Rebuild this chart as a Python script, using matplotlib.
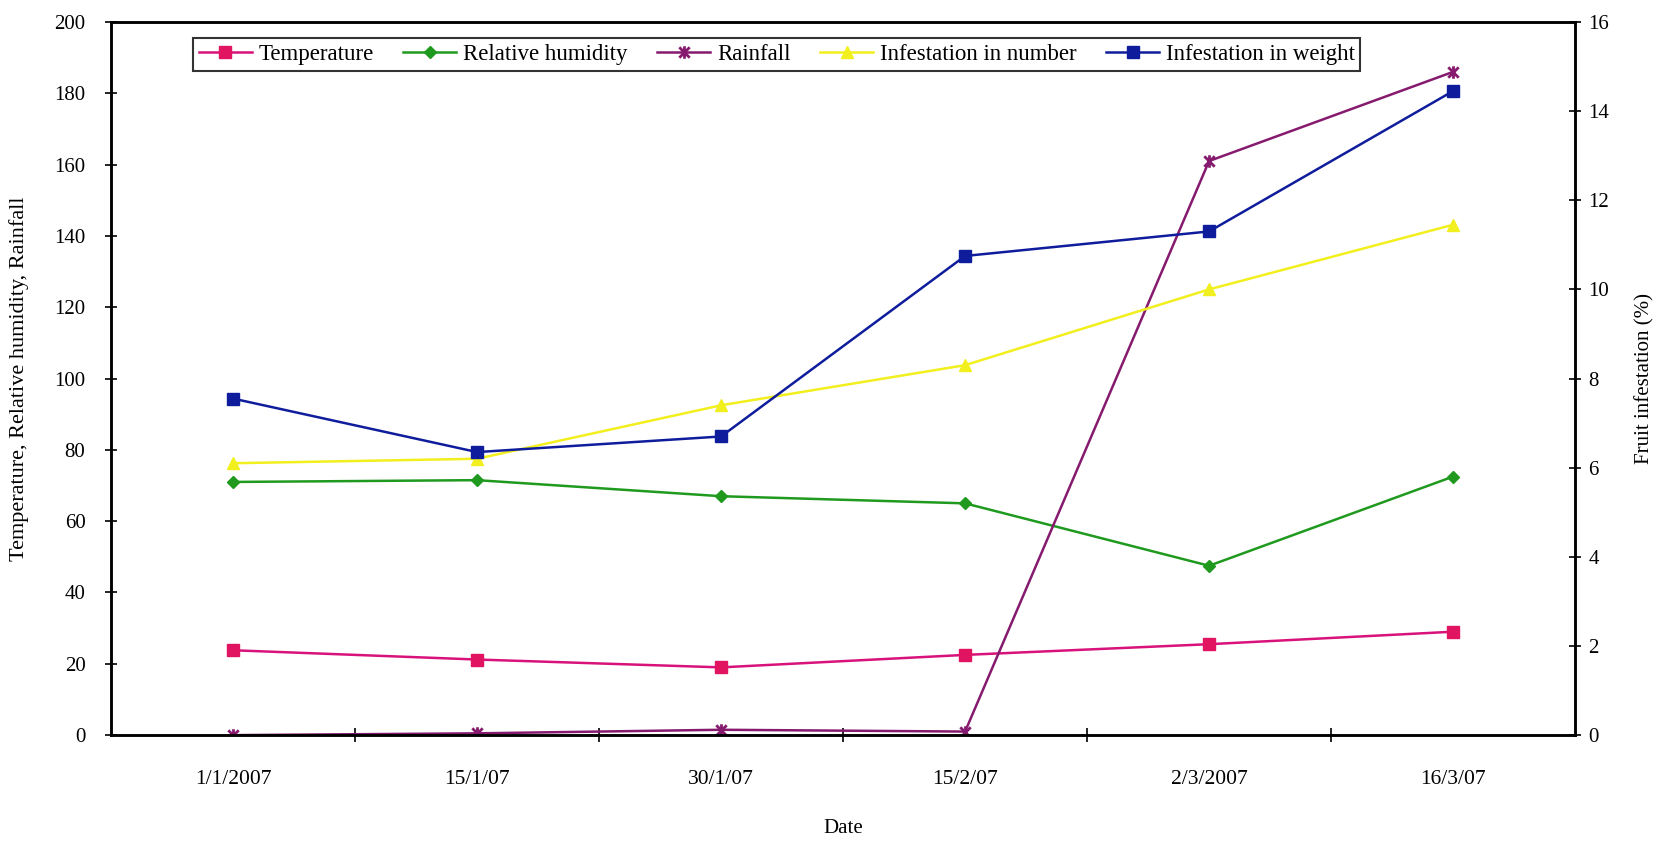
import matplotlib
matplotlib.use("Agg")
import matplotlib.pyplot as plt
from matplotlib.path import Path
from matplotlib.ticker import FixedLocator

plt.rcParams['font.family'] = ['Liberation Serif', 'DejaVu Serif']

dates = ["1/1/2007", "15/1/07", "30/1/07", "15/2/07", "2/3/2007", "16/3/07"]

# left axis series
temperature = [23.8, 21.2, 19.0, 22.5, 25.5, 29.0]
humidity = [71.0, 71.5, 67.0, 65.0, 47.5, 72.5]
rainfall = [0.0, 0.5, 1.5, 1.0, 161.0, 186.0]

# right axis series (%)
infest_number = [6.1, 6.2, 7.4, 8.3, 10.0, 11.45]
infest_weight = [7.55, 6.35, 6.7, 10.75, 11.3, 14.45]

c_temp = "#d8127a"
c_temp_mk = "#e01460"
c_rh = "#1f9a1f"
c_rain = "#851a6e"
c_num = "#f2ef1e"
c_wt = "#0f1d9c"

# excel style star: an x with a vertical bar through it
star = Path([(-1, -1), (1, 1), (-1, 1), (1, -1), (0, -1.2), (0, 1.2)],
            [Path.MOVETO, Path.LINETO, Path.MOVETO, Path.LINETO,
             Path.MOVETO, Path.LINETO])

fig = plt.figure(figsize=(16.58, 8.44), dpi=100)
ax = fig.add_axes([0.067, 0.129, 0.883, 0.845])
ax2 = ax.twinx()

x = list(range(len(dates)))
lw = 1.8
l1, = ax.plot(x, temperature, color=c_temp, lw=lw, marker='s', ms=8.5,
              mfc=c_temp_mk, mec=c_temp_mk, label="Temperature")
l2, = ax.plot(x, humidity, color=c_rh, lw=lw, marker='D', ms=6.5,
              mfc=c_rh, mec=c_rh, label="Relative humidity")
l3, = ax.plot(x, rainfall, color=c_rain, lw=lw, marker=star, ms=9,
              mew=2, mec=c_rain, label="Rainfall")
l4, = ax2.plot(x, infest_number, color=c_num, lw=lw, marker='^', ms=9,
               mfc=c_num, mec=c_num, label="Infestation in number")
l5, = ax2.plot(x, infest_weight, color=c_wt, lw=lw, marker='s', ms=8.5,
               mfc=c_wt, mec=c_wt, label="Infestation in weight")

ax.set_xlim(-0.5, len(dates) - 0.5)
ax.set_ylim(0, 200)
ax2.set_ylim(0, 16)
ax.set_yticks(range(0, 201, 20))
ax2.set_yticks(range(0, 17, 2))
ax.set_xticks(x)
ax.set_xticklabels(dates)
ax.xaxis.set_minor_locator(FixedLocator([i + 0.5 for i in range(len(dates) - 1)]))

for a in (ax, ax2):
    for s in a.spines.values():
        s.set_linewidth(1.8)
        s.set_color("black")

ax.tick_params(axis='x', which='major', length=0, pad=25, labelsize=15.5)
ax.tick_params(axis='x', which='minor', length=10, width=1.2, direction='inout')
ax.tick_params(axis='y', length=9, width=1.2, direction='inout', labelsize=15, pad=14)
ax2.tick_params(axis='y', length=9, width=1.2, direction='inout', labelsize=15, pad=5)

ax.set_xlabel("Date", fontsize=15, labelpad=22)
ax.set_ylabel("Temperature, Relative humidity, Rainfall", fontsize=16, labelpad=18)
ax2.set_ylabel("Fruit infestation (%)", fontsize=15, labelpad=19)

leg = ax2.legend(handles=[l1, l2, l3, l4, l5], loc='upper left',
                 bbox_to_anchor=(0.056, 0.977), ncol=5, fontsize=16.5,
                 frameon=True, fancybox=False, handlelength=2.3,
                 handletextpad=0.3, columnspacing=1.3, borderpad=0.25,
                 borderaxespad=0)
leg.get_frame().set_edgecolor("black")
leg.get_frame().set_linewidth(1.5)

fig.savefig("out.png", dpi=100)
